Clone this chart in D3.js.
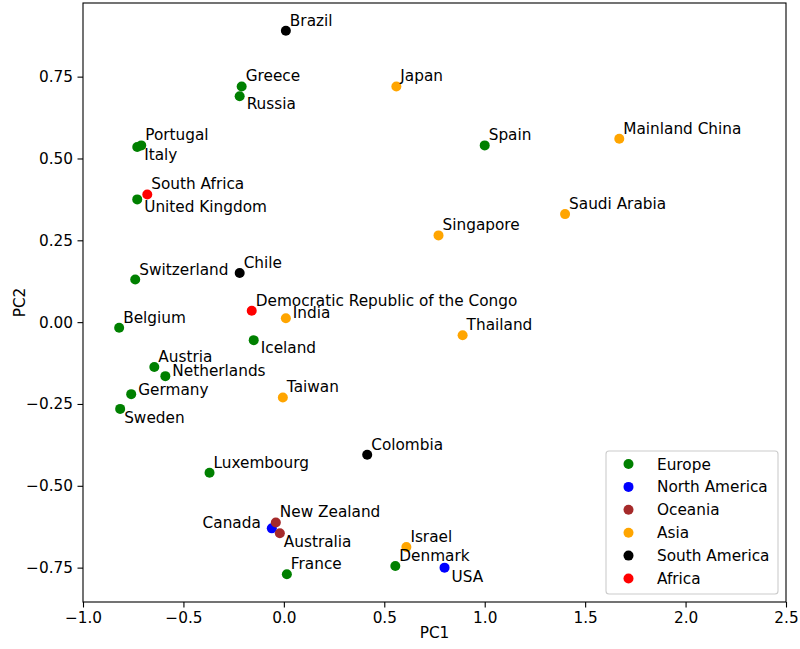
<!DOCTYPE html>
<html>
<head>
<meta charset="utf-8">
<script src="https://cdn.jsdelivr.net/npm/d3@7"></script>
<style>
  body { margin: 0; background: #fff; }
  text { font-family: "DejaVu Sans", sans-serif; }
</style>
</head>
<body>
<svg id="chart" width="800" height="649"></svg>
<script>
// ---- data ----
const countries = ["Brazil","Japan","Greece","Russia","Spain","Mainland China","Portugal","Italy",
  "South Africa","United Kingdom","Saudi Arabia","Singapore","Chile","Switzerland",
  "Democratic Republic of the Congo","India","Belgium","Iceland","Thailand","Austria","Netherlands",
  "Germany","Taiwan","Sweden","Colombia","Luxembourg","New Zealand","Canada","Australia",
  "Israel","Denmark","USA","France"];
const continentOf = ["South America","Asia","Europe","Europe","Europe","Asia","Europe","Europe",
  "Africa","Europe","Asia","Asia","South America","Europe",
  "Africa","Asia","Europe","Europe","Asia","Europe","Europe",
  "Europe","Asia","Europe","South America","Europe","Oceania","North America","Oceania",
  "Asia","Europe","North America","Europe"];
const pc1 = [0.01,0.56,-0.21,-0.22,1.00,1.67,-0.71,-0.73,
  -0.68,-0.73,1.40,0.77,-0.22,-0.74,
  -0.16,0.01,-0.82,-0.15,0.89,-0.645,-0.59,
  -0.76,-0.005,-0.815,0.415,-0.37,-0.04,-0.06,-0.02,
  0.61,0.555,0.80,0.015];
const pc2 = [0.89,0.72,0.72,0.69,0.54,0.56,0.54,0.535,
  0.39,0.375,0.33,0.265,0.15,0.13,
  0.035,0.012,-0.017,-0.055,-0.04,-0.137,-0.165,
  -0.22,-0.23,-0.265,-0.405,-0.46,-0.612,-0.63,-0.645,
  -0.687,-0.745,-0.75,-0.77];
const continents = ["Europe","North America","Oceania","Asia","South America","Africa"];
const continentColors = ["green","blue","brown","orange","black","red"];
const xTicks = [-1.0,-0.5,0.0,0.5,1.0,1.5,2.0,2.5];
const yTicks = [-0.75,-0.5,-0.25,0.0,0.25,0.5,0.75];

// ---- layout ----
const pLeft = 83, pRight = 786, pTop = 3, pBottom = 602;
const fontSize = 15.3;
const svg = d3.select("#chart");
const x = d3.scaleLinear().domain([-1, 2.5]).range([pLeft, pRight]);
const y = d3.scaleLinear().domain([-0.855, 0.975]).range([pBottom, pTop]);
const color = d3.scaleOrdinal().domain(continents).range(continentColors);
const fmtMinus = s => s.replace("-", "\u2212");

// label offsets (px) relative to the marker: default right-above
const labelOffset = {
  "Russia":[7,13], "Italy":[7,13], "United Kingdom":[7,13], "India":[7,0],
  "Iceland":[7,13], "Netherlands":[7,0], "Germany":[7,1], "Sweden":[4,14],
  "Australia":[4,14], "USA":[7,14], "Canada":[-11,0]
};

const pts = countries.map((c,i) => ({name:c, cont:continentOf[i], x:pc1[i], y:pc2[i]}));

// axes
const xAxis = d3.axisBottom(x).tickValues(xTicks).tickSize(5.5).tickPadding(4.5)
  .tickFormat(d => fmtMinus(d3.format(".1f")(d)));
const yAxis = d3.axisLeft(y).tickValues(yTicks).tickSize(5.5).tickPadding(4.5)
  .tickFormat(d => fmtMinus(d3.format(".2f")(d)));

const gx = svg.append("g").attr("transform", `translate(0,${pBottom})`).call(xAxis);
const gy = svg.append("g").attr("transform", `translate(${pLeft},0)`).call(yAxis);
[gx, gy].forEach(g => {
  g.select(".domain").remove();
  g.selectAll("line").attr("stroke", "#000").attr("stroke-width", 1.1);
  g.selectAll("text").attr("font-size", fontSize).attr("fill", "#000")
    .attr("font-family", "DejaVu Sans");
});

// frame
svg.append("rect").attr("x", pLeft).attr("y", pTop).attr("width", pRight-pLeft).attr("height", pBottom-pTop)
  .attr("fill", "none").attr("stroke", "#000").attr("stroke-width", 1.1);

// points, drawn in continent order
continents.forEach(cn => {
  svg.append("g").selectAll("circle").data(pts.filter(p => p.cont === cn)).join("circle")
    .attr("cx", d => x(d.x)).attr("cy", d => y(d.y)).attr("r", 5)
    .attr("fill", color(cn));
});

// labels
svg.append("g").selectAll("text").data(pts).join("text")
  .attr("x", d => x(d.x) + (labelOffset[d.name] || [4,-5])[0])
  .attr("y", d => y(d.y) + (labelOffset[d.name] || [4,-5])[1])
  .attr("text-anchor", d => d.name === "Canada" ? "end" : "start")
  .attr("font-size", fontSize).attr("fill", "#000")
  .text(d => d.name);

// axis titles
svg.append("text").attr("x", (pLeft+pRight)/2).attr("y", 638).attr("text-anchor", "middle")
  .attr("font-size", fontSize).text("PC1");
svg.append("text").attr("transform", `translate(25,${(pTop+pBottom)/2}) rotate(-90)`)
  .attr("text-anchor", "middle").attr("font-size", fontSize).text("PC2");

// legend
const lg = svg.append("g");
lg.append("rect").attr("x", 606).attr("y", 451).attr("width", 172).attr("height", 143)
  .attr("rx", 3).attr("fill", "#fff").attr("fill-opacity", 0.8)
  .attr("stroke", "#ccc").attr("stroke-width", 1.1);
continents.forEach((cn, i) => {
  const cy = 464 + i * 22.9;
  lg.append("circle").attr("cx", 628.5).attr("cy", cy).attr("r", 5).attr("fill", color(cn));
  lg.append("text").attr("x", 657).attr("y", cy + 5.5).attr("font-size", fontSize).text(cn);
});
</script>
</body>
</html>
